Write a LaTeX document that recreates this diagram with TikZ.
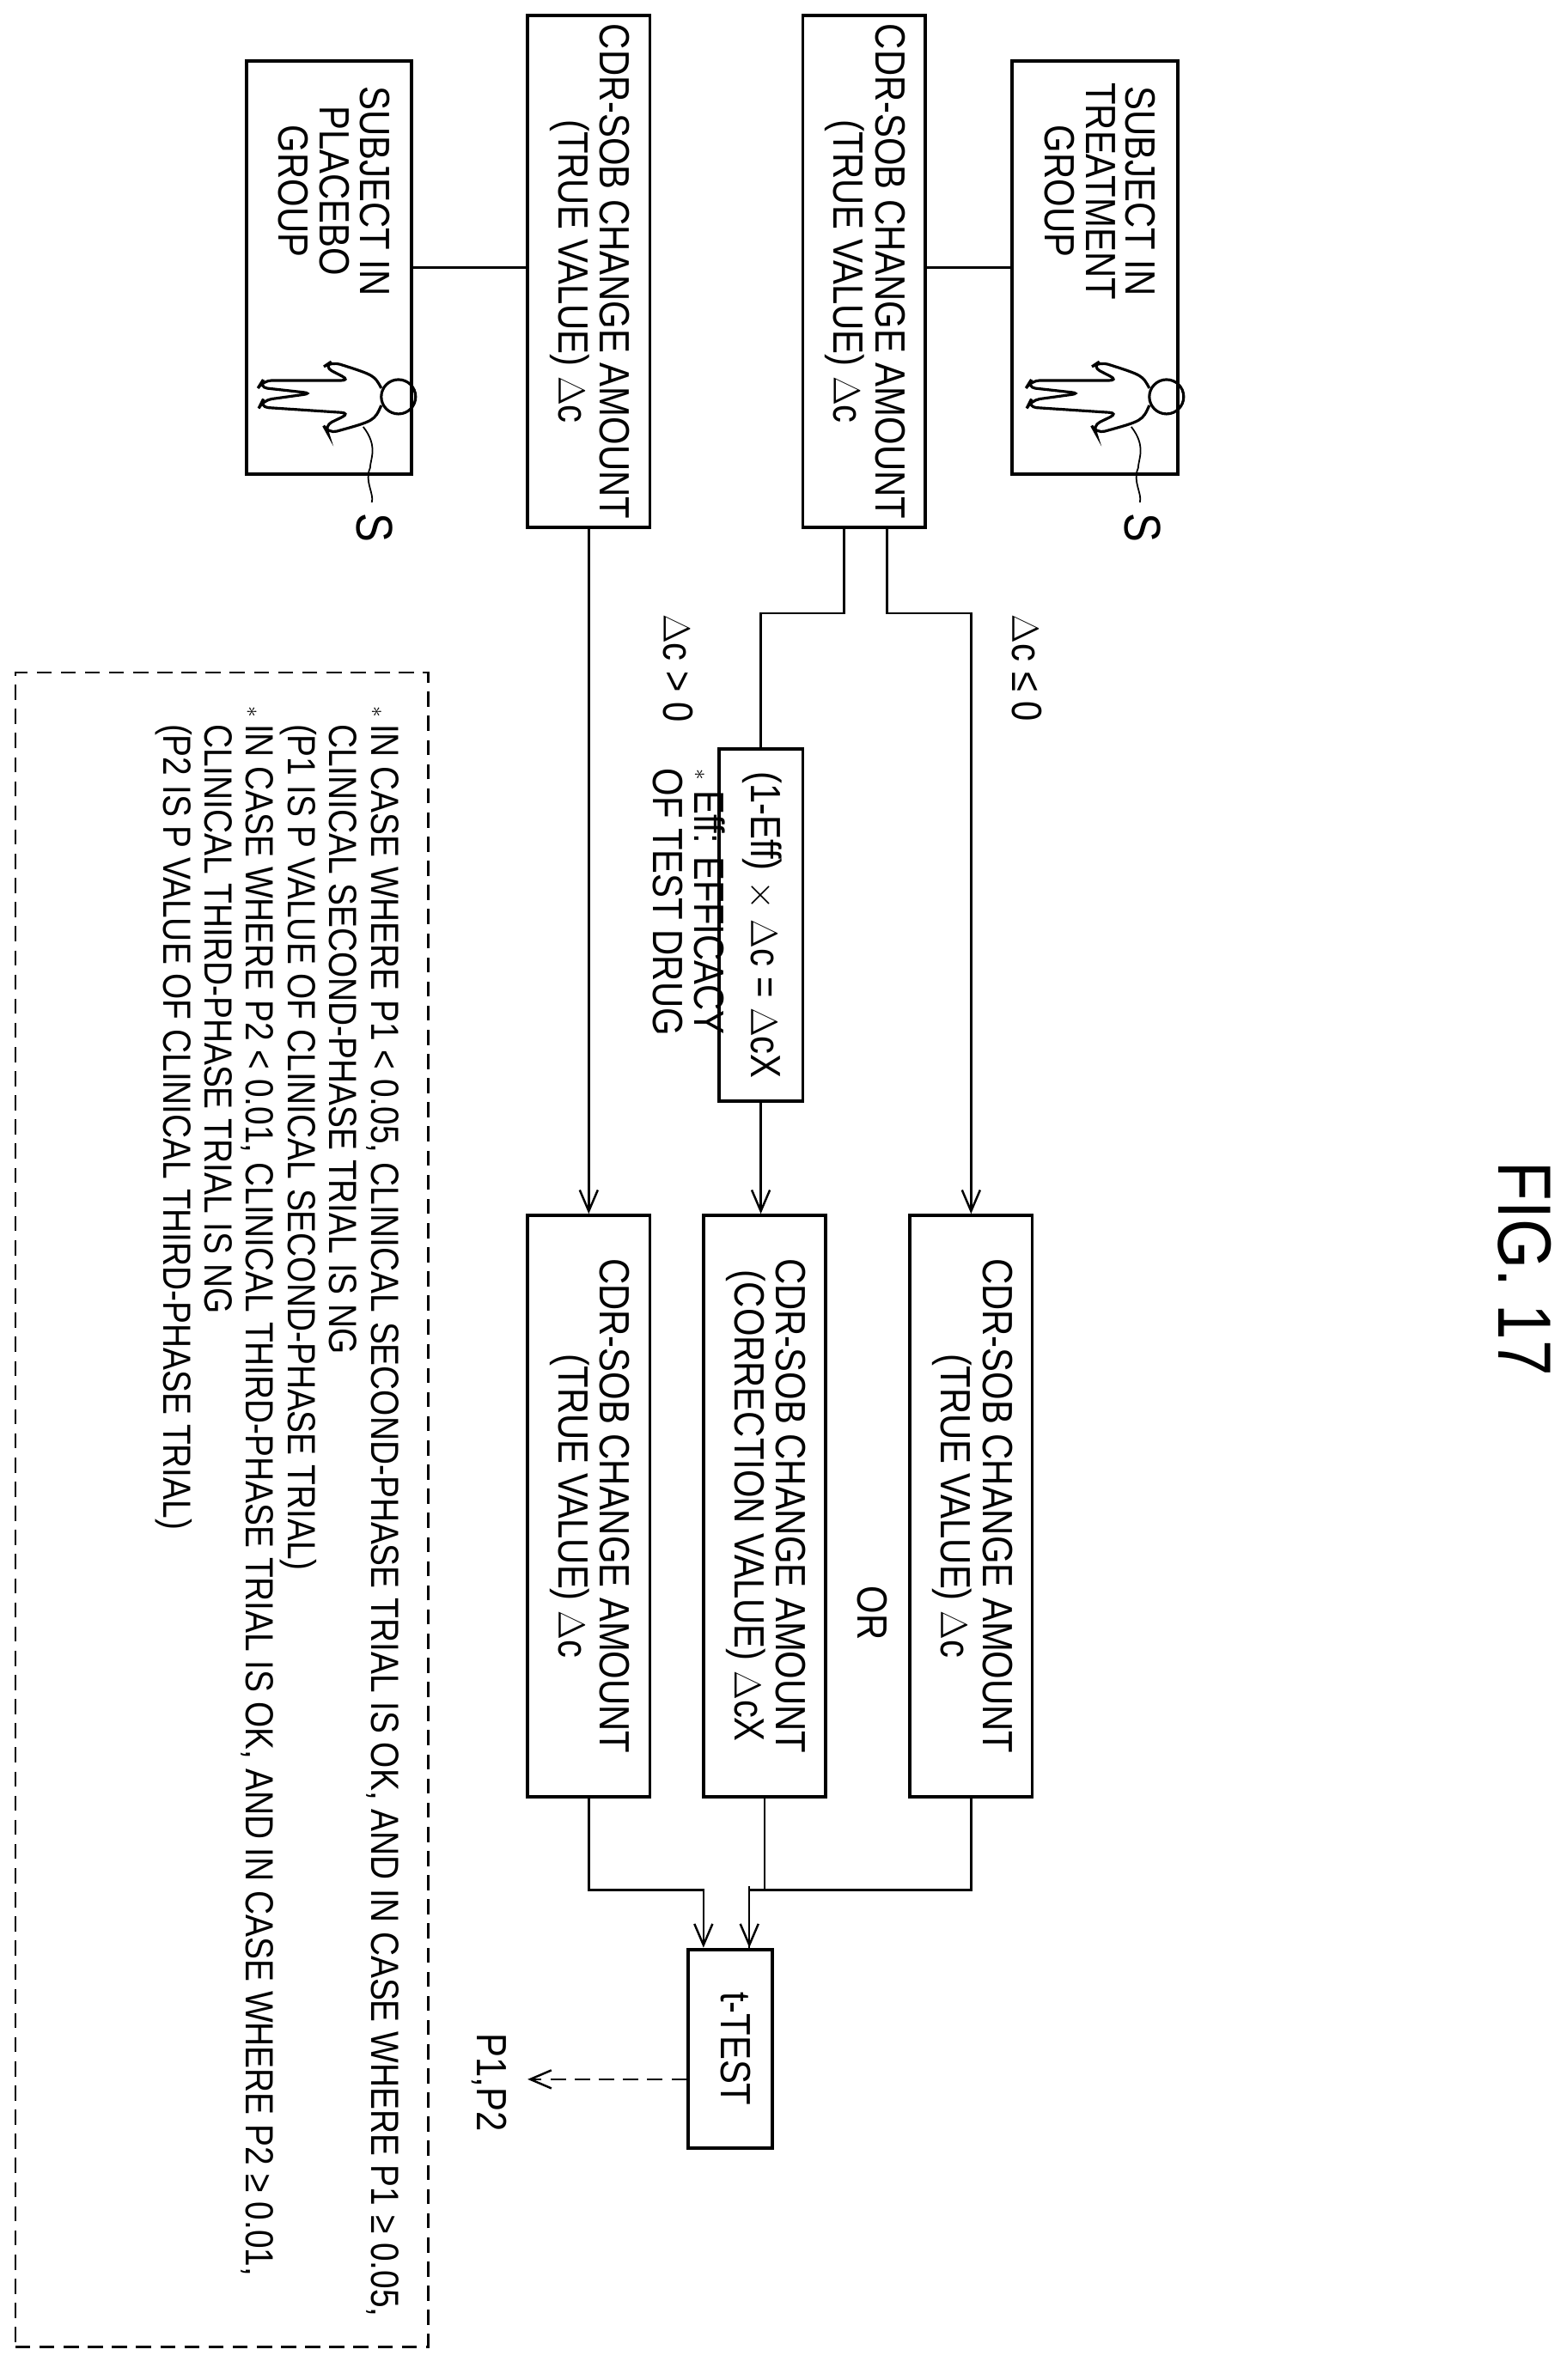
\documentclass[tikz,border=0pt]{standalone}
\usepackage{fontspec}
\setmainfont{Liberation Sans}[FakeStretch=0.85]
\usetikzlibrary{arrows.meta}
\newcommand{\rtx}[1]{\rotatebox{-90}{\begin{tabular}{@{}c@{}}#1\end{tabular}}}
\def\u{0.0356cm}
\begin{document}
\begin{tikzpicture}[x=0.0356cm,y=-0.0356cm,
  box/.style={draw,line width=2.2pt,inner sep=0pt},
  txt/.style={font=\fontsize{28}{26}\selectfont,inner sep=0pt},
  ln/.style={line width=1.4pt},
  arr/.style={ln,-{Straight Barb[length=14pt,width=12pt]}}]
\renewcommand\arraystretch{0.95}
\useasboundingbox (0,0) rectangle (1024.2,1556.7);
\fill[white] (0,0) rectangle (1024.2,1556.7);
% boxes
\node[box,minimum width=108*\u,minimum height=270*\u] (st) at (716,175) {};
\node[box,minimum width=108*\u,minimum height=270*\u] (sp) at (215,175) {};
\node[txt] (stt) at (716,125) {\rtx{SUBJECT IN\\TREATMENT\\GROUP}};
\node[txt] (spt) at (215,125) {\rtx{SUBJECT IN\\PLACEBO\\GROUP}};
\node[box,txt,minimum width=80*\u,minimum height=335*\u] (ct) at (565,177.5) {\rtx{CDR-SOB CHANGE AMOUNT\\(TRUE VALUE) $\Delta$c}};
\node[box,txt,minimum width=80*\u,minimum height=335*\u] (cp) at (385,177.5) {\rtx{CDR-SOB CHANGE AMOUNT\\(TRUE VALUE) $\Delta$c}};
\node[box,txt,minimum width=80*\u,minimum height=380*\u] (r1) at (635,985) {\rtx{CDR-SOB CHANGE AMOUNT\\(TRUE VALUE) $\Delta$c}};
\node[box,txt,minimum width=80*\u,minimum height=380*\u] (r2) at (500,985) {\rtx{CDR-SOB CHANGE AMOUNT\\(CORRECTION VALUE) $\Delta$cX}};
\node[box,txt,minimum width=80*\u,minimum height=380*\u] (r3) at (385,985) {\rtx{CDR-SOB CHANGE AMOUNT\\(TRUE VALUE) $\Delta$c}};
\node[box,txt,minimum width=55*\u,minimum height=230*\u] (eff) at (497.5,605) {\rtx{(1-Eff) $\times$ $\Delta$c = $\Delta$cX}};
\node[box,txt,minimum width=55*\u,minimum height=130*\u] (tt) at (477.5,1340) {\rtx{t-TEST}};
% labels
\node[txt] (or) at (567,1055) {\rtx{OR}};
\node[txt] (l1) at (668,437) {\rtx{$\Delta$c ≤ 0}};
\node[txt] (l2) at (440,437) {\rtx{$\Delta$c > 0}};
\node[txt] (l3) at (447,590) {\rtx{{\Large$\ast$} Eff: EFFICACY\\OF TEST DRUG}};
\node[txt] (pp) at (318,1362) {\rtx{P1,P2}};
\node[font=\fontsize{50}{50}\selectfont,inner sep=0pt] (fig) at (997,830) {\rotatebox{-90}{FIG. 17}};
% connectors
\draw[ln] (st.west) -- (st.west-|ct.east);
\draw[ln] (sp.east) -- (sp.east-|cp.west);
\draw[arr] ([xshift=15*\u]ct.south) -- ++(0,55) -| (r1.north);
\draw[ln] ([xshift=-13*\u]ct.south) -- ++(0,55) -| (eff.north);
\draw[arr] (eff.south) -- (eff.south|-r2.north);
\draw[arr] (cp.south) -- (r3.north);
\draw[ln] (r1.south) -- ++(0,60) -| ([xshift=12.5*\u]tt.north);
\draw[arr] ([xshift=12.5*\u]tt.north) ++(0,-40) -- ([xshift=12.5*\u]tt.north);
\draw[ln] (r2.south) -- ++(0,60);
\draw[arr] (r3.south) -- ++(0,60) -| ([xshift=-17.5*\u]tt.north);
\coordinate (pe) at (345,1360);
\draw[ln,dashed,dash pattern=on 10pt off 6pt,-{Straight Barb[length=14pt,width=12pt]}] (tt.west|-pe) -- (pe);
% persons
\foreach \dx/\nm in {0/a,-894/b}{
\begin{scope}[shift={(\dx/1.78,0)},scale=1/1.78]
\draw[line width=1.8pt] (1358,462) circle (20);
\draw[line width=1.8pt,rounded corners=6pt] (1338,452) .. controls (1330,437) .. (1280,421) -- (1271,427) -- (1302,443) -- (1200,443) -- (1195,451) -- (1258,458) -- (1200,466) -- (1196,474) -- (1302,481) -- (1271,496) -- (1276,505) .. controls (1330,490) .. (1338,472);
\draw[line width=1pt] (1317,497) .. controls (1335,520) and (1325,535) .. (1325,545) .. controls (1318,560) and (1330,575) .. (1327,585);
\node[font=\fontsize{34}{34}\selectfont,inner sep=0pt] (s\nm) at (1330,615) {\rotatebox{-90}{S}};
\end{scope}}
% dashed note
\node[draw,dashed,line width=1.4pt,dash pattern=on 10pt off 6pt,minimum width=270*\u,minimum height=1095*\u] (note) at (145,987.5) {};
\node[font=\fontsize{26}{29}\selectfont,inner sep=0pt,anchor=north east] (nt) at (262,462) {\rotatebox{-90}{\begin{tabular}{@{}l@{\,}l@{}}
{\Large$\ast$} & IN CASE WHERE P1 < 0.05, CLINICAL SECOND-PHASE TRIAL IS OK, AND IN CASE WHERE P1 ≥ 0.05,\\
& CLINICAL SECOND-PHASE TRIAL IS NG\\
& (P1 IS P VALUE OF CLINICAL SECOND-PHASE TRIAL)\\
{\Large$\ast$} & IN CASE WHERE P2 < 0.01, CLINICAL THIRD-PHASE TRIAL IS OK, AND IN CASE WHERE P2 ≥ 0.01,\\
& CLINICAL THIRD-PHASE TRIAL IS NG\\
& (P2 IS P VALUE OF CLINICAL THIRD-PHASE TRIAL)
\end{tabular}}};
\end{tikzpicture}
\end{document}
